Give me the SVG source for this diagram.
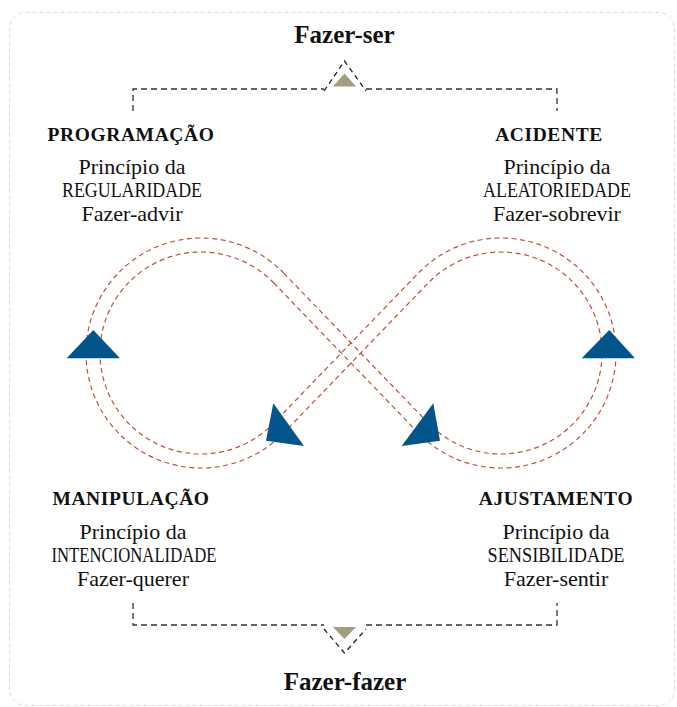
<svg xmlns="http://www.w3.org/2000/svg" width="677" height="707" viewBox="0 0 677 707">
<style>
.frame{fill:#fff;stroke:#dedbd4;stroke-width:1;stroke-dasharray:4 3}
.title{font-family:"Liberation Serif","Times New Roman",serif;font-weight:bold;font-size:25px;fill:#111;text-anchor:middle}
.head{font-family:"Liberation Serif","Times New Roman",serif;font-weight:bold;font-size:19.5px;letter-spacing:0.6px;fill:#111;text-anchor:middle}
.body{font-family:"Liberation Serif","Times New Roman",serif;font-size:22px;fill:#111;text-anchor:middle}
.loop{fill:none;stroke:#c0503c;stroke-width:1.2;stroke-dasharray:5 3.5}
.brk{fill:none;stroke:#333;stroke-width:1.3;stroke-dasharray:6 4}
.chev{fill:none;stroke:#222;stroke-width:1.3;stroke-dasharray:5 4}
.arrow{fill:#02558a}
.khaki{fill:#a19d80}
</style>
<rect class="frame" x="9.5" y="12.5" width="665" height="693" rx="16"/>

<g id="connectors">
  <path class="loop" d="M283.8,273.2 L428.28,423.1 A101,101 0 1 0 428.28,282.91 L283.8,432.81 A115,115 0 1 1 283.8,273.2 Z"/>
  <path class="loop" d="M273.72,282.91 L418.2,432.81 A115,115 0 1 0 418.2,273.2 L273.72,423.1 A101,101 0 1 1 273.72,282.91 Z"/>
  <polygon class="arrow" points="66.7,358.3 93.3,330 120,358.3"/>
  <polygon class="arrow" points="581.7,358.3 609.3,330 635,358.3"/>
  <polygon class="arrow" points="273.3,403.3 266,440.7 304,446"/>
  <polygon class="arrow" points="433.3,403.3 401.7,446 440,440.7"/>
  <path class="brk" d="M133,111 V89 H324 M366,89 H557 V111"/>
  <path class="chev" d="M324,91 L344.5,61 L366,91"/>
  <polygon class="khaki" points="333,86.5 344.5,73.5 356,86.5"/>
  <path class="brk" d="M133,603 V625 H324 M366,625 H557 V603"/>
  <path class="chev" d="M324,629 L344.5,653 L366,629"/>
  <polygon class="khaki" points="333,627 356,627 344.5,639"/>
</g>

<g id="fazer-ser"><text class="title" x="344.5" y="43">Fazer-ser</text></g>
<g id="fazer-fazer"><text class="title" x="345" y="690">Fazer-fazer</text></g>

<g id="programacao">
  <text class="head" x="131" y="141">PROGRAMAÇÃO</text>
  <text class="body" x="132" y="173.5">Princípio da</text>
  <text class="body" x="132" y="197" textLength="140" lengthAdjust="spacingAndGlyphs">REGULARIDADE</text>
  <text class="body" x="132" y="220.5">Fazer-advir</text>
</g>

<g id="acidente">
  <text class="head" x="549" y="141">ACIDENTE</text>
  <text class="body" x="557" y="173.5">Princípio da</text>
  <text class="body" x="557" y="197" textLength="148" lengthAdjust="spacingAndGlyphs">ALEATORIEDADE</text>
  <text class="body" x="557" y="220.5">Fazer-sobrevir</text>
</g>

<g id="manipulacao">
  <text class="head" x="131" y="505">MANIPULAÇÃO</text>
  <text class="body" x="133" y="538.5">Princípio da</text>
  <text class="body" x="134" y="562" textLength="165" lengthAdjust="spacingAndGlyphs">INTENCIONALIDADE</text>
  <text class="body" x="133" y="585.5">Fazer-querer</text>
</g>

<g id="ajustamento">
  <text class="head" x="556" y="505">AJUSTAMENTO</text>
  <text class="body" x="556" y="538.5">Princípio da</text>
  <text class="body" x="556" y="562" textLength="137" lengthAdjust="spacingAndGlyphs">SENSIBILIDADE</text>
  <text class="body" x="556" y="585.5">Fazer-sentir</text>
</g>
</svg>
